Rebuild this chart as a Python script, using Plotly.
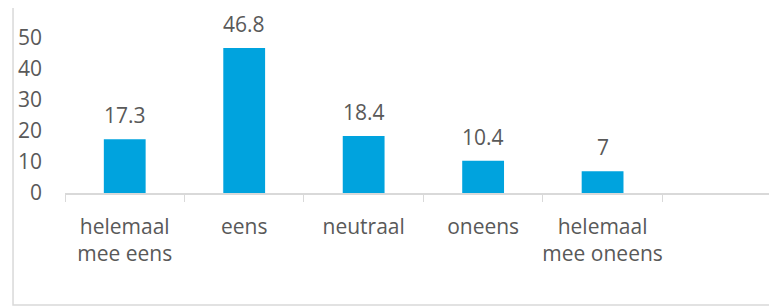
import plotly.graph_objects as go

categories = ["helemaal<br>mee eens", "eens", "neutraal", "oneens", "helemaal<br>mee oneens"]
values = [17.3, 46.8, 18.4, 10.4, 7]
value_labels = ["17.3", "46.8", "18.4", "10.4", "7"]
axis_categories = categories + [" "]
y_ticks = [0, 10, 20, 30, 40, 50]

BLUE = "#00A3DE"
TEXT = "#595959"
GRID = "#D9D9D9"
FONT = "Open Sans"
FS = 21

fig = go.Figure()
fig.add_trace(go.Bar(
    x=categories, y=values, marker=dict(color=BLUE, line=dict(width=0)),
    width=0.35, cliponaxis=False, hoverinfo="skip",
))

for c, v, t in zip(categories, values, value_labels):
    fig.add_annotation(x=c, y=v, text=t, showarrow=False, yanchor="bottom",
                       yshift=8, font=dict(family=FONT, size=FS, color=TEXT))

fig.add_shape(type="rect", xref="paper", yref="paper",
              x0=-0.073, x1=1.03, y0=-0.7226, y1=1.2226,
              line=dict(color="#D9D9D9", width=1.5), layer="below")

fig.update_layout(
    width=777, height=308,
    margin=dict(l=57, r=8, t=30, b=123),
    paper_bgcolor="white", plot_bgcolor="white",
    showlegend=False,
    font=dict(family=FONT, size=FS, color=TEXT),
    xaxis=dict(
        type="category", categoryorder="array", categoryarray=axis_categories,
        range=[-0.5, 5.46], tickson="boundaries", ticks="outside", ticklen=7,
        tickcolor=GRID, tickwidth=1, showline=True, linecolor=GRID, linewidth=1.5,
        showgrid=False, zeroline=False, ticklabelstandoff=14, tickangle=0,
        automargin=False,
        tickfont=dict(family=FONT, size=FS, color=TEXT),
    ),
    yaxis=dict(
        range=[0, 50], tickvals=y_ticks, showgrid=False, zeroline=False,
        showline=False, ticks="", ticklabelstandoff=22, automargin=False,
        tickfont=dict(family=FONT, size=FS, color=TEXT),
    ),
)

fig.write_html("out.html")
